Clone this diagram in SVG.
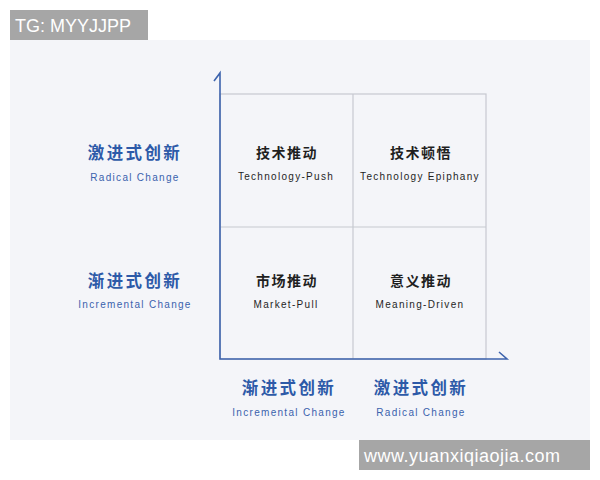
<svg xmlns="http://www.w3.org/2000/svg" width="600" height="480" viewBox="0 0 600 480">
<style>
.zh{font-family:"Noto Sans CJK SC","Noto Sans",sans-serif;font-weight:bold;text-anchor:middle}
.en{font-family:"Liberation Sans",Arial,sans-serif;text-anchor:middle;letter-spacing:1.3px}
.cell{font-size:14px;fill:#1f1f1f;letter-spacing:1.5px}
.celle{font-size:10px;fill:#1f1f1f}
.ax{font-size:16.5px;fill:#2d5aa8;letter-spacing:2.4px}
.axe{font-size:10px;fill:#3a62ad}
.grid{fill:none;stroke:#c6c9d0;stroke-width:1.2}
.axis{fill:none;stroke:#3d63ad;stroke-width:1.6}
.wm{font-family:"Liberation Sans",Arial,sans-serif;font-size:18px;fill:#ffffff}
</style>
<rect x="0" y="0" width="600" height="480" fill="#ffffff"/>
<rect x="10" y="40" width="580" height="400" fill="#f4f5f9"/>
<g id="grid">
<rect class="grid" x="220" y="94" width="266" height="265"/>
<line class="grid" x1="353" y1="94" x2="353" y2="359"/>
<line class="grid" x1="220" y1="227" x2="486" y2="227"/>
</g>
<g id="connectors">
<polyline class="axis" points="214,81 220,73 220,359 507,359 499,352"/>
</g>
<g id="node-tl">
<text class="zh cell" x="287" y="158">技术推动</text>
<text class="en celle" x="286" y="180">Technology-Push</text>
</g>
<g id="node-tr">
<text class="zh cell" x="421" y="158">技术顿悟</text>
<text class="en celle" x="420" y="180">Technology Epiphany</text>
</g>
<g id="node-bl">
<text class="zh cell" x="287" y="286">市场推动</text>
<text class="en celle" x="286" y="308">Market-Pull</text>
</g>
<g id="node-br">
<text class="zh cell" x="421" y="286">意义推动</text>
<text class="en celle" x="420" y="308">Meaning-Driven</text>
</g>
<g id="label-y-top">
<text class="zh ax" x="135" y="159">激进式创新</text>
<text class="en axe" x="135" y="181">Radical Change</text>
</g>
<g id="label-y-bottom">
<text class="zh ax" x="135" y="287">渐进式创新</text>
<text class="en axe" x="135" y="308">Incremental Change</text>
</g>
<g id="label-x-left">
<text class="zh ax" x="289" y="394">渐进式创新</text>
<text class="en axe" x="289" y="416">Incremental Change</text>
</g>
<g id="label-x-right">
<text class="zh ax" x="421" y="394">激进式创新</text>
<text class="en axe" x="421" y="416">Radical Change</text>
</g>
<g id="watermarks">
<rect x="10" y="10" width="138" height="30" fill="#a6a6a6"/>
<text class="wm" x="15" y="32">TG: MYYJJPP</text>
<rect x="359" y="440" width="231" height="30" fill="#a6a6a6"/>
<text class="wm" x="364" y="462" style="letter-spacing:0.5px">www.yuanxiqiaojia.com</text>
</g>
</svg>
